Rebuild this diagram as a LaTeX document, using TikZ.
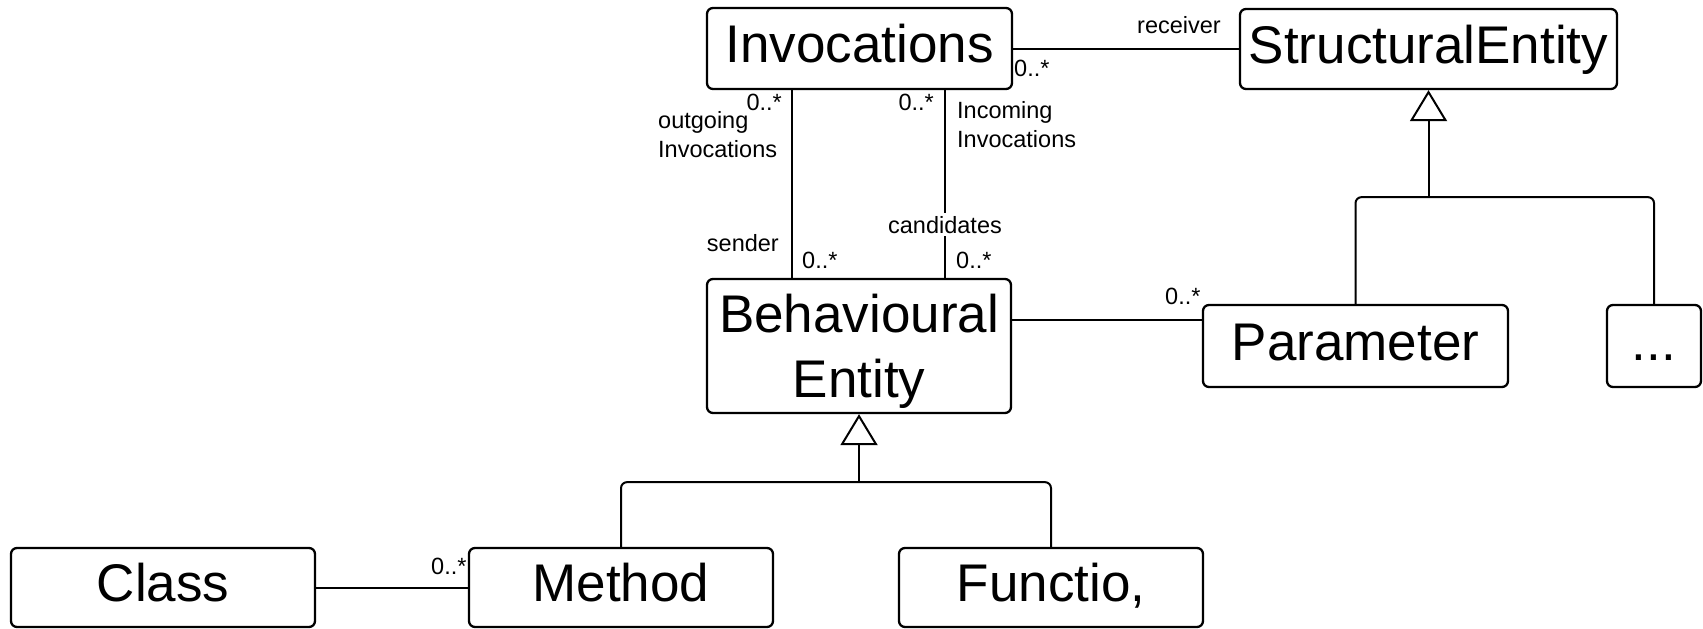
\documentclass[tikz,border=0pt]{standalone}
\usepackage{fontspec}
\setmainfont{Liberation Sans}
\usetikzlibrary{arrows.meta}
\begin{document}
\begin{tikzpicture}[x=1pt,y=1pt,
  cls/.style={draw, line width=2.3pt, rounded corners=6pt, inner sep=0pt,
    font=\fontsize{53}{65}\selectfont, text height=40pt, text depth=12pt},
  assoc/.style={line width=2pt},
  lbl/.style={inner sep=0pt, font=\fontsize{23.5}{28.5}\selectfont},
  tree/.style={line width=2pt, rounded corners=6pt},
  gen/.style={line width=2pt, -{Triangle[open, length=31pt, width=37pt, line width=2pt]}}]
\useasboundingbox[fill=white] (0,0) rectangle (1703,-629);

% classes
\node[cls, minimum width=305pt, minimum height=81pt] (inv) at (859.5,-48.5) {Invocations};
\node[cls, minimum width=377pt, minimum height=80pt] (se)  at (1428.5,-49) {StructuralEntity};
\node[cls, minimum width=304pt, minimum height=134pt, align=center, text height=114pt, text depth=12pt]
     (beh) at (859,-346) {Behavioural\\Entity};
\node[cls, minimum width=305pt, minimum height=82pt] (par) at (1355.5,-346) {Parameter};
\node[cls, minimum width=94pt,  minimum height=82pt] (dots) at (1654,-346) {...};
\node[cls, minimum width=304pt, minimum height=79pt] (cla) at (163,-587.5) {Class};
\node[cls, minimum width=304pt, minimum height=79pt] (meth) at (621,-587.5) {Method};
\node[cls, minimum width=304pt, minimum height=79pt] (fun) at (1051,-587.5) {Functio,};

% associations
\draw[assoc] (inv.east) -- (inv.east -| se.west);
\draw[assoc] ([xshift=-67.5pt]inv.south) -- ([xshift=-67.5pt]inv.south |- beh.north);
\draw[assoc] ([xshift=85.5pt]inv.south) -- ([xshift=85.5pt]inv.south |- beh.north);
\draw[assoc] ([yshift=26pt]beh.east) -- ([yshift=26pt]beh.east -| par.west);
\draw[assoc] (cla.east) -- (meth.west);

% generalisations
\coordinate (bj) at ([yshift=-68pt]beh.south);
\draw[tree] (meth.north) |- (bj) -| (fun.north);
\draw[gen] (bj) -- (beh.south);
\coordinate (sj) at ([yshift=-107pt]se.south);
\draw[tree] (par.north) |- (sj) -| (dots.north);
\draw[gen] (sj) -- (se.south);

% role names and multiplicities
\node[lbl, anchor=base] (lrecv) at (1179,-33) {receiver};
\node[lbl, anchor=base west] (mrecv) at (1014,-76) {0..*};
\node[lbl, anchor=base east] (mout) at (782,-110) {0..*};
\node[lbl, anchor=base west, align=left] (lout) at (658,-157) {outgoing\\Invocations};
\node[lbl, anchor=base east] (min) at (934,-110) {0..*};
\node[lbl, anchor=base west, align=left] (lin) at (957,-147) {Incoming\\Invocations};
\node[lbl, anchor=base east] (lsend) at (779,-251) {sender};
\node[lbl, anchor=base, fill=white, inner sep=3pt] (lcand) at (945,-233) {candidates};
\node[lbl, anchor=base west] (msend) at (802,-268) {0..*};
\node[lbl, anchor=base west] (mcand) at (956,-268) {0..*};
\node[lbl, anchor=base west] (mpar) at (1165,-304) {0..*};
\node[lbl, anchor=base west] (mmeth) at (431,-574) {0..*};
\end{tikzpicture}
\end{document}
